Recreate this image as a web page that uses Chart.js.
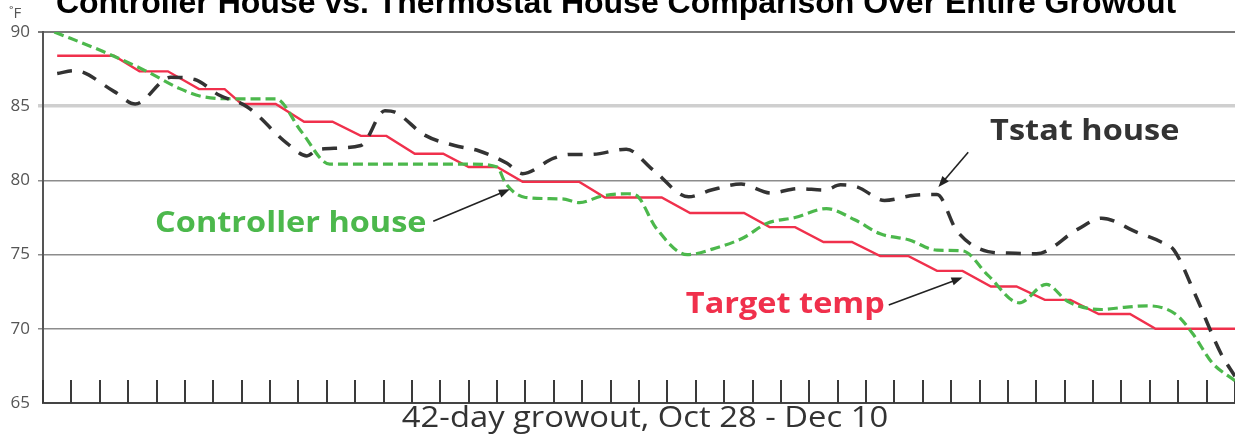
<!DOCTYPE html>
<html>
<head>
<meta charset="utf-8">
<script src="https://cdn.jsdelivr.net/npm/chart.js@4.4.0/dist/chart.umd.min.js"></script>
<style>
html,body{margin:0;padding:0;background:#fff;overflow:hidden}
#wrap{width:1235px;height:434px;position:relative}
canvas{display:block}
</style>
</head>
<body>
<div id="wrap"><canvas id="c" width="1235" height="434"></canvas></div>
<script>
// ---- text ----
const chartTitle = "Controller House vs. Thermostat House Comparison Over Entire Growout";
const unitLabel = "˚F";
const xAxisTitle = "42-day growout, Oct 28 - Dec 10";
const seriesNames = ["Target temp", "Controller house", "Tstat house"];

// ---- ticks ----
const yTickValues = [65, 70, 75, 80, 85, 90];
const dayTicks = [0,1,2,3,4,5,6,7,8,9,10,11,12,13,14,15,16,17,18,19,20,21,22,23,24,25,26,27,28,29,30,31,32,33,34,35,36,37,38,39,40,41,42];

// ---- series: Target temp (°F) ----
const targetDays  = [0.5, 2.5, 3.4, 4.4, 5.5, 6.4, 7.0, 8.2, 9.2, 10.2, 11.2, 12.1, 13.1, 14.1, 15.0, 16.0, 16.9, 18.9, 19.8, 21.8, 22.8, 24.7, 25.6, 26.5, 27.5, 28.5, 29.5, 30.5, 31.5, 32.4, 33.4, 34.3, 35.3, 36.2, 37.2, 38.3, 39.2, 42];
const targetTemps = [88.4, 88.4, 87.35, 87.35, 86.15, 86.15, 85.15, 85.15, 83.95, 83.95, 83.0, 83.0, 81.8, 81.8, 80.9, 80.9, 79.9, 79.9, 78.85, 78.85, 77.8, 77.8, 76.85, 76.85, 75.85, 75.85, 74.9, 74.9, 73.9, 73.9, 72.85, 72.85, 71.95, 71.95, 71.0, 71.0, 70.0, 70.0];

// ---- series: Controller house (°F) ----
const controllerDays  = [0.4, 2.1, 3.6, 4.8, 5.6, 6.8, 8.2, 9.1, 10.1, 15.1, 16.0, 16.3, 17.0, 18.3, 18.9, 19.7, 20.6, 20.9, 21.6, 22.7, 23.8, 24.7, 25.5, 26.5, 27.6, 28.6, 29.5, 30.5, 31.5, 32.4, 33.3, 34.4, 35.35, 36.1, 37.3, 38.1, 38.9, 39.9, 40.5, 41.2, 42];
const controllerTemps = [90.0, 88.7, 87.4, 86.2, 85.65, 85.5, 85.5, 83.3, 81.1, 81.1, 80.9, 79.8, 78.85, 78.75, 78.5, 78.95, 79.1, 79.0, 76.8, 75.0, 75.5, 76.15, 77.1, 77.5, 78.1, 77.35, 76.4, 76.0, 75.3, 75.25, 73.6, 71.75, 73.0, 71.85, 71.3, 71.45, 71.55, 71.0, 69.7, 67.7, 66.5];

// ---- series: Tstat house (°F) ----
const tstatDays  = [0.5, 1.1, 2.5, 3.25, 4.5, 5.35, 6.2, 7.2, 8.6, 9.3, 9.7, 11.2, 12.05, 12.4, 13.45, 14.5, 15.35, 16.35, 16.9, 18.0, 18.6, 19.3, 20.55, 21.5, 22.75, 23.55, 24.6, 25.65, 26.6, 27.55, 28.1, 28.7, 29.65, 30.7, 31.5, 32.2, 33.3, 34.0, 35.0, 36.45, 37.3, 38.55, 39.4, 39.85, 40.6, 41.5, 42];
const tstatTemps = [87.2, 87.4, 86.0, 85.15, 86.95, 86.8, 85.75, 84.95, 82.5, 81.65, 82.1, 82.35, 84.7, 84.6, 83.05, 82.35, 82.0, 81.15, 80.45, 81.5, 81.75, 81.75, 82.1, 80.7, 78.9, 79.35, 79.75, 79.15, 79.45, 79.35, 79.7, 79.55, 78.65, 79.0, 79.05, 76.6, 75.2, 75.1, 75.05, 76.7, 77.45, 76.5, 75.85, 75.3, 72.3, 68.35, 66.8];

// ---- annotation anchors (data units: day, °F) ----
const labelTstat      = {day: 33.37, temp: 83.3, from: [32.6, 81.9], to: [31.55, 79.55]};
const labelController = {day: 3.95,  temp: 77.1, from: [13.75, 77.25], to: [16.45, 79.4]};
const labelTarget     = {day: 22.65, temp: 71.6, from: [29.8, 71.6], to: [32.4, 73.45]};

const toXY = (xs, ys) => xs.map((x, i) => ({x: x, y: ys[i]}));

const COL_RED = '#f0304c', COL_GREEN = '#4cb84c', COL_DARK = '#333333';

function arrow(ctx, x1, y1, x2, y2) {
  const a = Math.atan2(y2 - y1, x2 - x1), L = 11, W = 4.2;
  ctx.save();
  ctx.strokeStyle = '#222'; ctx.fillStyle = '#222'; ctx.lineWidth = 1.6;
  ctx.beginPath(); ctx.moveTo(x1, y1);
  ctx.lineTo(x2 - Math.cos(a) * (L - 2), y2 - Math.sin(a) * (L - 2)); ctx.stroke();
  ctx.beginPath();
  ctx.moveTo(x2, y2);
  ctx.lineTo(x2 - Math.cos(a) * L - Math.sin(a) * W, y2 - Math.sin(a) * L + Math.cos(a) * W);
  ctx.lineTo(x2 - Math.cos(a) * L + Math.sin(a) * W, y2 - Math.sin(a) * L - Math.cos(a) * W);
  ctx.closePath(); ctx.fill();
  ctx.restore();
}

function stretchedText(ctx, txt, x, y, sx) {
  ctx.save();
  ctx.translate(x, y);
  ctx.scale(sx, 1);
  ctx.fillText(txt, 0, 0);
  ctx.restore();
}

const ticksPlugin = {
  id: 'innerTicks',
  beforeDatasetsDraw(chart) {
    const {ctx, scales: {x}, chartArea} = chart;
    ctx.save();
    ctx.strokeStyle = '#3a3a3a'; ctx.lineWidth = 2;
    dayTicks.forEach(d => {
      const px = Math.round(x.getPixelForValue(d));
      ctx.beginPath(); ctx.moveTo(px, chartArea.bottom); ctx.lineTo(px, chartArea.bottom - 23); ctx.stroke();
    });
    ctx.restore();
  }
};

const annotPlugin = {
  id: 'annot',
  afterDatasetsDraw(chart) {
    const {ctx, scales: {x, y}} = chart;
    ctx.save();
    // title (top clipped like the original)
    ctx.fillStyle = '#000';
    ctx.font = 'bold 32px "Liberation Sans", Arial, sans-serif';
    ctx.textAlign = 'center'; ctx.textBaseline = 'alphabetic';
    ctx.fillText(chartTitle, 616, 13);
    // unit
    ctx.fillStyle = '#555';
    ctx.font = '15px "Open Sans", sans-serif';
    ctx.textAlign = 'left';
    ctx.fillText(unitLabel, 9, 18);
    // x-axis title
    ctx.fillStyle = '#333';
    ctx.font = '29px "Open Sans", sans-serif';
    ctx.textAlign = 'center'; ctx.textBaseline = 'alphabetic';
    stretchedText(ctx, xAxisTitle, 645, 427, 1.13);
    // labels
    ctx.textAlign = 'left';
    ctx.textBaseline = 'middle';
    ctx.font = 'bold 29px "Open Sans", sans-serif';
    const items = [[labelTstat, seriesNames[2], COL_DARK], [labelController, seriesNames[1], COL_GREEN], [labelTarget, seriesNames[0], COL_RED]];
    items.forEach(([lab, txt, col]) => {
      ctx.fillStyle = col;
      stretchedText(ctx, txt, x.getPixelForValue(lab.day), y.getPixelForValue(lab.temp), 1.12);
      arrow(ctx, x.getPixelForValue(lab.from[0]), y.getPixelForValue(lab.from[1]),
                 x.getPixelForValue(lab.to[0]), y.getPixelForValue(lab.to[1]));
    });
    ctx.restore();
  }
};

new Chart(document.getElementById('c'), {
  type: 'line',
  data: {
    datasets: [
      {label: seriesNames[2], data: toXY(tstatDays, tstatTemps), borderColor: COL_DARK, borderWidth: 3.5,
       borderDash: [15, 11], pointRadius: 0, cubicInterpolationMode: 'monotone', order: 0, fill: false},
      {label: seriesNames[1], data: toXY(controllerDays, controllerTemps), borderColor: COL_GREEN, borderWidth: 3.2,
       borderDash: [10, 5], pointRadius: 0, cubicInterpolationMode: 'monotone', order: 1, fill: false},
      {label: seriesNames[0], data: toXY(targetDays, targetTemps), borderColor: COL_RED, borderWidth: 2.4,
       pointRadius: 0, tension: 0, order: 2, fill: false}
    ]
  },
  options: {
    responsive: false,
    animation: false,
    devicePixelRatio: 1,
    layout: {padding: {top: 32, right: 0, left: 0, bottom: 0}},
    plugins: {legend: {display: false}, tooltip: {enabled: false}, title: {display: false}},
    scales: {
      x: {
        type: 'linear', min: 0, max: 42,
        ticks: {display: false, stepSize: 1},
        grid: {display: false},
        border: {color: '#444', width: 2},
        afterFit: s => { s.height = 31; }
      },
      y: {
        min: 65, max: 90,
        afterBuildTicks: s => { s.ticks = yTickValues.map(v => ({value: v})); },
        ticks: {color: '#555', font: {family: '"Open Sans", sans-serif', size: 17}, padding: 8},
        grid: {
          tickLength: 5,
          color: c => c.tick && c.tick.value === 85 ? '#cfcfcf' : (c.tick && c.tick.value === 65 ? 'rgba(0,0,0,0)' : (c.tick && c.tick.value === 90 ? '#7a7a7a' : '#8c8c8c')),
          lineWidth: c => c.tick && c.tick.value === 85 ? 3.5 : (c.tick && c.tick.value === 90 ? 2 : 1.5)
        },
        border: {color: '#555', width: 2},
        afterFit: s => { s.width = 43; }
      }
    }
  },
  plugins: [ticksPlugin, annotPlugin]
});
</script>
</body>
</html>
